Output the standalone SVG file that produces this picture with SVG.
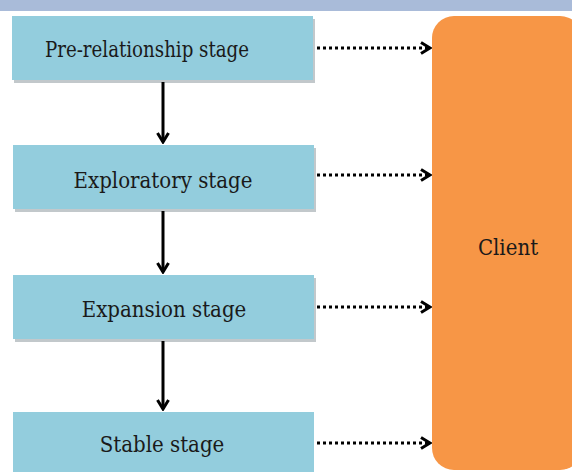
<svg xmlns="http://www.w3.org/2000/svg" width="572" height="472" viewBox="0 0 572 472">
  <style>
    .box { fill: #93cddd; }
    .shadow { fill: #9aa3a8; opacity: 0.6; }
    .label { font-family: 'DejaVu Serif Condensed', 'DejaVu Serif', 'Liberation Serif', serif; font-stretch: condensed; font-size: 22px; fill: #1a1a1a; text-anchor: middle; }
    .solid { stroke: #000; stroke-width: 3; fill: none; }
    .dotted { stroke: #000; stroke-width: 3; fill: none; stroke-dasharray: 3 3; }
  </style>
  <defs>
    <marker id="chev" viewBox="0 0 14 14" refX="12" refY="7" markerWidth="14" markerHeight="14" markerUnits="userSpaceOnUse" orient="auto">
      <path d="M3,1.5 L12,7 L3,12.5" stroke="#000" stroke-width="3" fill="none"/>
    </marker>
  </defs>
  <rect x="0" y="0" width="572" height="472" fill="#ffffff"/>
  <rect x="0" y="0" width="572" height="11" fill="#a9bbd9"/>

  <g id="n1">
    <rect class="shadow" x="14" y="19" width="301" height="64"/>
    <rect class="box" x="12" y="16" width="301" height="64"/>
    <text class="label" x="147" y="57" textLength="204" lengthAdjust="spacingAndGlyphs">Pre-relationship stage</text>
  </g>
  <g id="n2">
    <rect class="shadow" x="15" y="148" width="301" height="64"/>
    <rect class="box" x="13" y="145" width="301" height="64"/>
    <text class="label" x="163" y="188">Exploratory stage</text>
  </g>
  <g id="n3">
    <rect class="shadow" x="15" y="278" width="301" height="64"/>
    <rect class="box" x="13" y="275" width="301" height="64"/>
    <text class="label" x="164" y="317">Expansion stage</text>
  </g>
  <g id="n4">
    <rect class="box" x="13" y="412" width="301" height="66"/>
    <text class="label" x="162" y="452">Stable stage</text>
  </g>
  <g id="client">
    <rect x="432" y="16" width="150" height="454" rx="22" ry="22" fill="#f79646"/>
    <text class="label" x="508" y="255">Client</text>
  </g>

  <g id="connectors">
    <line class="solid" x1="163" y1="82" x2="163" y2="142" marker-end="url(#chev)"/>
    <line class="solid" x1="163" y1="211" x2="163" y2="272" marker-end="url(#chev)"/>
    <line class="solid" x1="163" y1="341" x2="163" y2="409" marker-end="url(#chev)"/>
    <line class="dotted" x1="317" y1="48" x2="430" y2="48" marker-end="url(#chev)"/>
    <line class="dotted" x1="317" y1="175" x2="430" y2="175" marker-end="url(#chev)"/>
    <line class="dotted" x1="317" y1="307" x2="430" y2="307" marker-end="url(#chev)"/>
    <line class="dotted" x1="317" y1="443" x2="430" y2="443" marker-end="url(#chev)"/>
  </g>
</svg>
